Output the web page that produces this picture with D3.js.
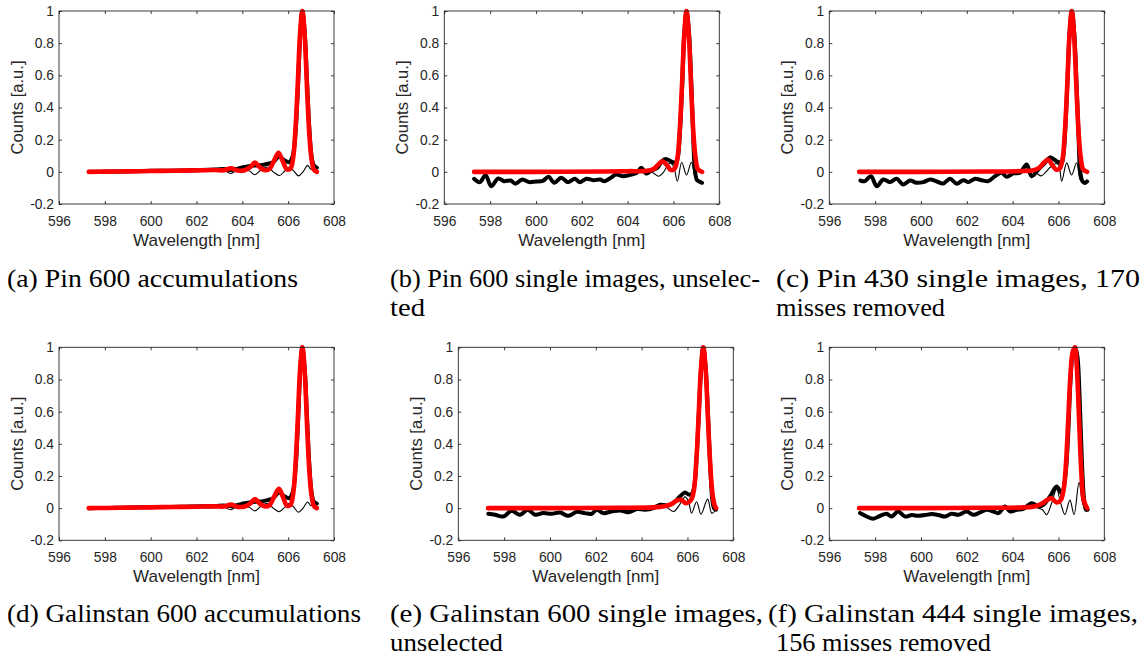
<!DOCTYPE html>
<html><head><meta charset="utf-8">
<script src="https://cdn.jsdelivr.net/npm/d3@7"></script>
<style>body{margin:0;background:#fff}svg{display:block}</style>
</head><body>
<svg id="c" width="1146" height="661"></svg>
<script>
// ---------- axis ticks ----------
const wavelengthTicks = [596, 598, 600, 602, 604, 606, 608];
const countTicks = [-0.2, 0, 0.2, 0.4, 0.6, 0.8, 1];
const countTickLabels = ['-0.2', '0', '0.2', '0.4', '0.6', '0.8', '1'];

// ---------- (a) Pin 600 accumulations ----------
const measA = [[597.3,0.0],[597.8,0.001],[598.5,0.002],[599.2,0.004],[600,0.006],[600.8,0.007],[601.5,0.009],[602.2,0.011],[602.8,0.014],[603.2,0.018],[603.5,0.012],[603.8,0.02],[604.1,0.03],[604.4,0.038],[604.6,0.04],[604.85,0.042],[605.1,0.05],[605.35,0.06],[605.6,0.095],[605.85,0.07],[606.05,0.06],[606.2,0.1],[606.32,0.24],[606.42,0.5],[606.52,0.83],[606.62,1.0],[606.72,0.87],[606.82,0.57],[606.92,0.28],[607.02,0.1],[607.12,0.04],[607.25,0.025]];
const fitA = [[597.3,0.0],[598,0.001],[599,0.003],[600,0.005],[601,0.007],[602,0.009],[602.8,0.011],[603.2,0.01],[603.5,0.022],[603.8,0.008],[604.1,0.01],[604.35,0.03],[604.55,0.058],[604.75,0.03],[605.0,0.01],[605.2,0.02],[605.4,0.075],[605.58,0.118],[605.75,0.07],[605.95,0.015],[606.1,0.02],[606.22,0.09],[606.32,0.27],[606.42,0.55],[606.52,0.86],[606.62,1.0],[606.72,0.85],[606.82,0.53],[606.92,0.24],[607.02,0.08],[607.12,0.015],[607.25,0.0]];
const resA = [[597.3,0.0],[598,0.001],[599,0.001],[600,0.001],[601,0.0],[602,0.002],[602.8,0.003],[603.2,0.008],[603.48,-0.01],[603.75,0.008],[604.1,0.014],[604.3,0.006],[604.55,-0.018],[604.8,0.01],[605.1,0.03],[605.35,0.0],[605.62,-0.023],[605.85,0.005],[606.05,0.03],[606.25,0.005],[606.45,-0.025],[606.65,0.0],[606.85,0.04],[607.0,0.015],[607.12,0.03],[607.25,0.025]];

// ---------- (b) Pin 600 single images, unselected ----------
const measB = [[597.3,-0.043],[597.55,-0.064],[597.8,-0.021],[598.05,-0.089],[598.35,-0.041],[598.6,-0.058],[598.9,-0.054],[599.1,-0.074],[599.4,-0.048],[599.7,-0.064],[600.0,-0.06],[600.3,-0.056],[600.55,-0.031],[600.8,-0.068],[601.1,-0.037],[601.4,-0.064],[601.7,-0.043],[601.9,-0.064],[602.2,-0.043],[602.5,-0.052],[602.8,-0.048],[603.0,-0.058],[603.3,-0.033],[603.5,-0.017],[603.8,-0.027],[604.1,-0.019],[604.4,-0.006],[604.6,0.025],[604.8,-0.01],[605.0,0.004],[605.3,0.025],[605.5,0.066],[605.65,0.08],[605.95,0.062],[606.1,0.056],[606.2,0.1],[606.28,0.24],[606.37,0.5],[606.47,0.85],[606.57,1.0],[606.67,0.88],[606.77,0.58],[606.85,0.27],[606.93,0.02],[607.02,-0.05],[607.12,-0.06],[607.25,-0.068]];
const fitB = [[597.3,0.0],[600,0.0],[603,0.002],[604,0.004],[604.8,0.006],[605.1,0.015],[605.3,0.04],[605.5,0.066],[605.7,0.045],[605.88,0.012],[606.05,0.02],[606.17,0.08],[606.27,0.25],[606.37,0.53],[606.47,0.85],[606.57,1.0],[606.67,0.85],[606.77,0.53],[606.87,0.24],[606.97,0.08],[607.07,0.015],[607.25,0.0]];
const resB = [[597.3,-0.043],[597.55,-0.064],[597.8,-0.021],[598.05,-0.089],[598.35,-0.041],[598.6,-0.058],[598.9,-0.054],[599.1,-0.074],[599.4,-0.048],[599.7,-0.064],[600.0,-0.06],[600.3,-0.056],[600.55,-0.031],[600.8,-0.068],[601.1,-0.037],[601.4,-0.064],[601.7,-0.043],[601.9,-0.064],[602.2,-0.043],[602.5,-0.052],[602.8,-0.048],[603.0,-0.058],[603.3,-0.033],[603.5,-0.017],[603.8,-0.027],[604.1,-0.019],[604.4,-0.006],[604.6,0.025],[604.8,-0.01],[605.0,0.0],[605.15,-0.01],[605.35,-0.027],[605.55,-0.005],[605.7,0.03],[605.85,0.055],[606.0,0.035],[606.17,-0.058],[606.36,0.06],[606.57,-0.02],[606.78,0.06],[606.92,-0.02],[607.02,-0.05],[607.12,-0.06],[607.25,-0.068]];

// ---------- (c) Pin 430 single images, 170 misses removed ----------
const measC = [[597.36,-0.054],[597.55,-0.058],[597.82,-0.027],[598.07,-0.089],[598.36,-0.048],[598.65,-0.064],[598.94,-0.043],[599.23,-0.079],[599.52,-0.054],[599.81,-0.068],[600.1,-0.064],[600.4,-0.048],[600.69,-0.06],[600.97,-0.072],[601.27,-0.043],[601.56,-0.074],[601.85,-0.052],[602.07,-0.064],[602.36,-0.043],[602.65,-0.052],[602.94,-0.058],[603.23,-0.027],[603.52,-0.006],[603.74,-0.031],[604.03,-0.01],[604.32,-0.006],[604.61,0.045],[604.83,-0.027],[605.12,0.014],[605.41,0.056],[605.63,0.09],[605.92,0.066],[606.14,0.056],[606.22,0.11],[606.3,0.27],[606.39,0.55],[606.49,0.87],[606.59,1.0],[606.69,0.86],[606.79,0.55],[606.87,0.25],[606.95,0.0],[607.05,-0.06],[607.15,-0.07],[607.25,-0.06]];
const fitC = [[597.3,0.0],[600,0.0],[603,0.002],[604.5,0.005],[604.9,0.01],[605.15,0.025],[605.35,0.055],[605.55,0.076],[605.72,0.045],[605.9,0.014],[606.05,0.02],[606.18,0.08],[606.28,0.25],[606.38,0.53],[606.48,0.85],[606.58,1.0],[606.68,0.85],[606.78,0.53],[606.88,0.24],[606.98,0.08],[607.08,0.015],[607.25,0.0]];
const resC = [[597.36,-0.054],[597.55,-0.058],[597.82,-0.027],[598.07,-0.089],[598.36,-0.048],[598.65,-0.064],[598.94,-0.043],[599.23,-0.079],[599.52,-0.054],[599.81,-0.068],[600.1,-0.064],[600.4,-0.048],[600.69,-0.06],[600.97,-0.072],[601.27,-0.043],[601.56,-0.074],[601.85,-0.052],[602.07,-0.064],[602.36,-0.043],[602.65,-0.052],[602.94,-0.058],[603.23,-0.027],[603.52,-0.006],[603.74,-0.031],[604.03,-0.01],[604.32,-0.006],[604.61,0.045],[604.83,-0.03],[605.0,-0.008],[605.25,-0.025],[605.45,0.0],[605.65,0.03],[605.9,0.052],[606.02,0.04],[606.14,-0.058],[606.36,0.056],[606.57,-0.02],[606.79,0.056],[606.95,-0.05],[607.1,-0.065],[607.25,-0.06]];

// ---------- (d) Galinstan 600 accumulations ----------
const measD = [[597.3,0.0],[597.8,0.001],[598.5,0.002],[599.2,0.004],[600,0.006],[600.8,0.007],[601.5,0.009],[602.2,0.011],[602.8,0.013],[603.2,0.017],[603.5,0.012],[603.8,0.02],[604.1,0.03],[604.4,0.037],[604.6,0.04],[604.85,0.042],[605.1,0.05],[605.35,0.062],[605.6,0.097],[605.85,0.072],[606.05,0.062],[606.2,0.1],[606.32,0.24],[606.42,0.5],[606.52,0.83],[606.62,1.0],[606.72,0.87],[606.82,0.57],[606.92,0.28],[607.02,0.1],[607.12,0.04],[607.25,0.028]];
const fitD = [[597.3,0.0],[598,0.001],[599,0.003],[600,0.005],[601,0.007],[602,0.009],[602.8,0.011],[603.2,0.01],[603.5,0.022],[603.8,0.008],[604.1,0.01],[604.35,0.03],[604.55,0.056],[604.75,0.03],[605.0,0.01],[605.2,0.02],[605.4,0.075],[605.6,0.12],[605.77,0.07],[605.95,0.015],[606.1,0.02],[606.22,0.09],[606.32,0.27],[606.42,0.55],[606.52,0.86],[606.62,1.0],[606.72,0.85],[606.82,0.53],[606.92,0.24],[607.02,0.08],[607.12,0.015],[607.25,0.0]];
const resD = [[597.3,0.0],[598,0.001],[599,0.001],[600,0.001],[601,0.0],[602,0.002],[602.8,0.003],[603.2,0.008],[603.48,-0.01],[603.75,0.008],[604.1,0.014],[604.3,0.006],[604.55,-0.017],[604.8,0.01],[605.1,0.03],[605.35,0.0],[605.62,-0.022],[605.85,0.005],[606.05,0.03],[606.25,0.005],[606.45,-0.026],[606.65,0.0],[606.85,0.038],[607.0,0.015],[607.12,0.03],[607.25,0.028]];

// ---------- (e) Galinstan 600 single images, unselected ----------
const measE = [[597.31,-0.035],[597.6,-0.041],[597.96,-0.052],[598.33,-0.017],[598.69,-0.041],[599.03,-0.01],[599.35,-0.041],[599.71,-0.031],[600.07,-0.035],[600.44,-0.027],[600.8,-0.048],[601.17,-0.023],[601.53,-0.031],[601.82,-0.035],[602.04,-0.01],[602.33,-0.031],[602.69,-0.021],[603.06,-0.014],[603.42,-0.025],[603.79,-0.006],[604.15,-0.01],[604.51,0.0],[604.8,0.021],[605.09,0.017],[605.38,0.031],[605.67,0.072],[605.89,0.097],[606.08,0.083],[606.2,0.09],[606.3,0.14],[606.4,0.32],[606.5,0.6],[606.6,0.88],[606.69,1.0],[606.79,0.88],[606.89,0.6],[606.99,0.27],[607.08,0.06],[607.16,0.0],[607.24,-0.01]];
const fitE = [[597.3,0.0],[600,0.0],[603,0.002],[604.5,0.005],[605.0,0.012],[605.3,0.025],[605.5,0.045],[605.72,0.052],[605.93,0.03],[606.08,0.04],[606.19,0.06],[606.29,0.12],[606.39,0.3],[606.49,0.58],[606.59,0.87],[606.69,1.0],[606.79,0.87],[606.89,0.57],[606.99,0.28],[607.09,0.09],[607.18,0.02],[607.25,0.0]];
const resE = [[597.31,-0.035],[597.6,-0.041],[597.96,-0.052],[598.33,-0.017],[598.69,-0.041],[599.03,-0.01],[599.35,-0.041],[599.71,-0.031],[600.07,-0.035],[600.44,-0.027],[600.8,-0.048],[601.17,-0.023],[601.53,-0.031],[601.82,-0.035],[602.04,-0.01],[602.33,-0.031],[602.69,-0.021],[603.06,-0.014],[603.42,-0.025],[603.79,-0.006],[604.15,-0.01],[604.51,0.0],[604.8,0.015],[605.09,0.005],[605.4,-0.021],[605.65,0.02],[605.89,0.07],[606.05,0.04],[606.18,-0.031],[606.4,0.04],[606.59,-0.037],[606.88,0.056],[607.06,-0.031],[607.24,-0.01]];

// ---------- (f) Galinstan 444 single images, 156 misses removed ----------
const measF = [[597.34,-0.031],[597.63,-0.052],[597.92,-0.066],[598.21,-0.048],[598.5,-0.035],[598.72,-0.052],[599.0,-0.021],[599.3,-0.052],[599.6,-0.043],[599.88,-0.048],[600.18,-0.043],[600.47,-0.037],[600.76,-0.043],[601.05,-0.052],[601.34,-0.035],[601.63,-0.041],[601.99,-0.021],[602.28,-0.041],[602.58,-0.027],[602.87,-0.01],[603.16,-0.021],[603.38,-0.031],[603.67,0.01],[603.89,-0.021],[604.18,-0.01],[604.47,-0.004],[604.83,0.031],[605.12,0.01],[605.34,0.021],[605.63,0.072],[605.92,0.135],[606.14,0.093],[606.3,0.2],[606.42,0.45],[606.52,0.78],[606.62,0.96],[606.72,1.0],[606.82,0.95],[606.92,0.7],[607.02,0.3],[607.12,0.05],[607.2,-0.01],[607.27,-0.01]];
const fitF = [[597.3,0.0],[600,0.0],[603,0.002],[604.5,0.005],[605.0,0.012],[605.3,0.03],[605.5,0.05],[605.7,0.062],[605.92,0.035],[606.1,0.05],[606.22,0.11],[606.32,0.26],[606.42,0.53],[606.52,0.82],[606.62,0.97],[606.72,1.0],[606.8,0.88],[606.9,0.55],[607.0,0.22],[607.1,0.05],[607.25,0.0]];
const resF = [[597.34,-0.031],[597.63,-0.052],[597.92,-0.066],[598.21,-0.048],[598.5,-0.035],[598.72,-0.052],[599.0,-0.021],[599.3,-0.052],[599.6,-0.043],[599.88,-0.048],[600.18,-0.043],[600.47,-0.037],[600.76,-0.043],[601.05,-0.052],[601.34,-0.035],[601.63,-0.041],[601.99,-0.021],[602.28,-0.041],[602.58,-0.027],[602.87,-0.01],[603.16,-0.021],[603.38,-0.031],[603.67,0.01],[603.89,-0.021],[604.18,-0.01],[604.47,-0.004],[604.83,0.028],[605.12,0.0],[605.3,-0.01],[605.48,-0.041],[605.7,0.03],[605.92,0.118],[606.1,0.03],[606.28,-0.04],[606.5,0.05],[606.68,-0.04],[606.9,0.16],[607.08,0.02],[607.27,-0.01]];

// ---------- captions ----------
const captionLines = [
  ['(a) Pin 600 accumulations', '', 291],
  ['(b) Pin 600 single images, unselec-', 'ted', 370],
  ['(c) Pin 430 single images, 170', 'misses removed', 364],
  ['(d) Galinstan 600 accumulations', '', 354],
  ['(e) Galinstan 600 single images,', 'unselected', 373],
  ['(f) Galinstan 444 single images,', '156 misses removed', 370]
];
const secondLineWidths = {'ted': 35, 'misses removed': 169, 'unselected': 113, '156 misses removed': 215};

// ---------- layout ----------
const panels = [
  {left: 59,    top: 11,    meas: measA, fit: fitA, res: resA, capX: 7,   capX2: 7,   capY: 287},
  {left: 444.3, top: 11,    meas: measB, fit: fitB, res: resB, capX: 390, capX2: 390, capY: 287},
  {left: 829.3, top: 11,    meas: measC, fit: fitC, res: resC, capX: 776, capX2: 776, capY: 287},
  {left: 59,    top: 347.3, meas: measD, fit: fitD, res: resD, capX: 7,   capX2: 7,   capY: 622},
  {left: 458.3, top: 347.3, meas: measE, fit: fitE, res: resE, capX: 390, capX2: 390, capY: 622},
  {left: 829.3, top: 347.3, meas: measF, fit: fitF, res: resF, capX: 768, capX2: 776, capY: 622}
];
const W = 275, H = 193;
const axisColor = '#262626';
const sans = "'Liberation Sans', Arial, Helvetica, sans-serif";
const serif = "'Liberation Serif', 'Times New Roman', serif";

const svg = d3.select('#c');

panels.forEach((p, i) => {
  const x = d3.scaleLinear().domain([596, 608]).range([p.left, p.left + W]);
  const y = d3.scaleLinear().domain([-0.2, 1]).range([p.top + H, p.top]);
  const g = svg.append('g');

  const line = d3.line().x(d => x(d[0])).y(d => y(d[1])).curve(d3.curveCatmullRom.alpha(0.5));

  g.append('path').datum(p.meas).attr('d', line).attr('fill', 'none')
    .attr('stroke', '#000').attr('stroke-width', 4).attr('stroke-linejoin', 'round').attr('stroke-linecap', 'round');
  g.append('path').datum(p.res).attr('d', line).attr('fill', 'none')
    .attr('stroke', '#000').attr('stroke-width', 1.1).attr('stroke-linejoin', 'round');
  g.append('path').datum(p.fit).attr('d', line).attr('fill', 'none')
    .attr('stroke', '#ff0000').attr('stroke-width', 4.6).attr('stroke-linejoin', 'round').attr('stroke-linecap', 'round');

  // axes (MATLAB style: inward ticks on all sides)
  const styleAxis = sel => {
    sel.select('.domain').remove();
    sel.selectAll('line').attr('stroke', axisColor).attr('stroke-width', 0.9);
    sel.selectAll('text').attr('fill', axisColor).attr('font-family', sans).attr('font-size', '13.8px');
  };
  g.append('g').attr('transform', `translate(0,${p.top + H})`)
    .call(d3.axisBottom(x).tickValues(wavelengthTicks).tickSize(-3).tickPadding(12).tickFormat(d3.format('d')))
    .call(styleAxis);
  g.append('g').attr('transform', `translate(0,${p.top})`)
    .call(d3.axisTop(x).tickValues(wavelengthTicks).tickSize(-3).tickFormat(''))
    .call(styleAxis);
  g.append('g').attr('transform', `translate(${p.left},0)`)
    .call(d3.axisLeft(y).tickValues(countTicks).tickSize(-3).tickPadding(5)
      .tickFormat((d, k) => countTickLabels[k]))
    .call(styleAxis);
  g.append('g').attr('transform', `translate(${p.left + W},0)`)
    .call(d3.axisRight(y).tickValues(countTicks).tickSize(-3).tickFormat(''))
    .call(styleAxis);

  g.append('rect').attr('x', p.left).attr('y', p.top).attr('width', W).attr('height', H)
    .attr('fill', 'none').attr('stroke', axisColor).attr('stroke-width', 0.9);

  g.append('text').attr('x', p.left + W / 2).attr('y', p.top + H + 41.5)
    .attr('text-anchor', 'middle').attr('font-family', sans).attr('font-size', '17px')
    .attr('fill', axisColor).text('Wavelength [nm]');
  const ly = p.left - 42;
  const lyc = p.top + H / 2;
  g.append('text').attr('transform', `translate(${ly},${lyc}) rotate(-90)`)
    .attr('text-anchor', 'middle').attr('dy', '0.35em').attr('font-family', sans).attr('font-size', '16.6px')
    .attr('fill', axisColor).text('Counts [a.u.]');

  // caption
  const cap = captionLines[i];
  svg.append('text').attr('x', p.capX).attr('y', p.capY)
    .attr('font-family', serif).attr('font-size', '25px').attr('fill', '#000')
    .attr('textLength', cap[2]).attr('lengthAdjust', 'spacingAndGlyphs').text(cap[0]);
  if (cap[1]) {
    svg.append('text').attr('x', p.capX2).attr('y', p.capY + 29)
      .attr('font-family', serif).attr('font-size', '25px').attr('fill', '#000')
      .attr('textLength', secondLineWidths[cap[1]]).attr('lengthAdjust', 'spacingAndGlyphs').text(cap[1]);
  }
});
</script>
</body></html>
